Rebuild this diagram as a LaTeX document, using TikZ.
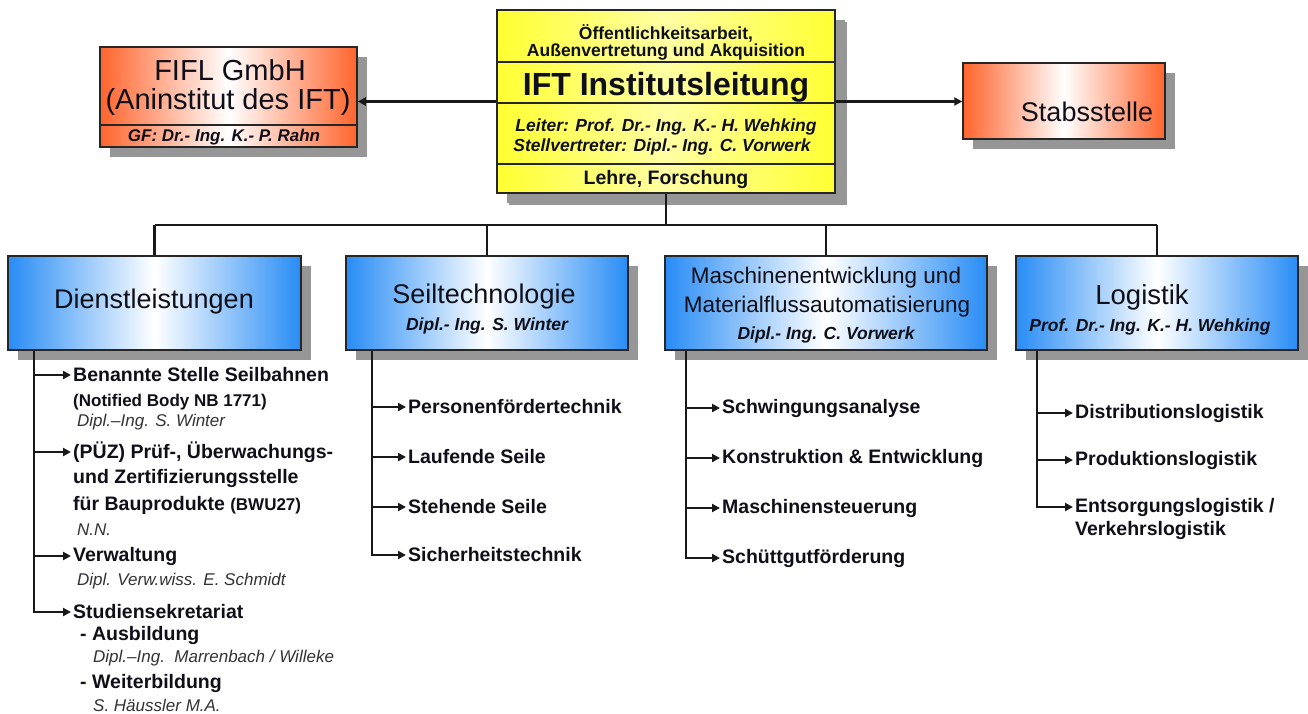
\documentclass[tikz,border=0pt]{standalone}
\usepackage{fontspec}
\setmainfont{Liberation Sans}
\usetikzlibrary{arrows.meta,shadows,calc}
\newcommand\fs[1]{\fontsize{#1}{#1}\selectfont}
\definecolor{bluee}{RGB}{40,140,245}
\definecolor{orangee}{RGB}{255,100,45}
\definecolor{yelloww}{RGB}{255,255,50}
\definecolor{shad}{RGB}{150,150,150}
\definecolor{txt}{RGB}{15,15,25}
\definecolor{itx}{RGB}{50,50,50}
\tikzset{
  boxbase/.style={draw=black!85, line width=1.5pt, inner sep=0pt,
    drop shadow={shadow xshift=10pt, shadow yshift=-10pt, fill=shad, opacity=1}},
  bluebox/.style={boxbase, left color=bluee, right color=bluee, middle color=white,
    minimum width=#1, minimum height=94pt},
  orangebox/.style={boxbase, left color=orangee, right color=orangee, middle color=white},
  yellowbox/.style={boxbase, left color=yelloww, right color=yelloww, middle color=yelloww!45,
    drop shadow={shadow xshift=12pt, shadow yshift=-12pt, fill=shad, opacity=1}},
  conn/.style={line width=2.4pt, black!90},
  arr/.style={conn, -{Triangle[length=8pt,width=8pt]}},
  item/.style={anchor=west, inner sep=0pt, font=\bfseries\fs{19.5}, text=txt},
  sub/.style={anchor=west, inner sep=0pt, font=\itshape\fs{17}, text=itx},
  ttl/.style={inner sep=0pt, text=txt},
}
\begin{document}
\begin{tikzpicture}[x=1pt,y=-1pt]
\useasboundingbox (0,0) rectangle (1308,713);
% top boxes
\node[yellowbox, minimum width=338pt, minimum height=183pt] (ift) at (666,101.5) {};
\draw[black!85, line width=1.2pt] (497,62) -- (835,62) (497,103) -- (835,103) (497,164) -- (835,164);
\node[ttl, font=\bfseries\fs{17.5}] (oe1) at (666,33) {Öffentlichkeitsarbeit,};
\node[ttl, font=\bfseries\fs{17.5}] (oe2) at (666,52) {Außenvertretung und Akquisition};
\node[ttl, font=\bfseries\fs{32}] (iftt) at (666,87) {IFT Institutsleitung};
\node[ttl, font=\bfseries\itshape\fs{17.5}] (lei) at (666,127) {Leiter: Prof. Dr.- Ing. K.- H. Wehking};
\node[ttl, font=\bfseries\itshape\fs{17.5}] (stv) at (662,147) {Stellvertreter: Dipl.- Ing. C. Vorwerk};
\node[ttl, font=\bfseries\fs{19.5}] (lf) at (666,179) {Lehre, Forschung};

\node[orangebox, minimum width=257pt, minimum height=100pt] (fifl) at (228.5,97) {};
\draw[black!85, line width=1.2pt] (100,125) -- (357,125);
\node[ttl, font=\fs{29}] (f1) at (230,70) {FIFL GmbH};
\node[ttl, font=\fs{29}] (f2) at (228,102) {(Aninstitut des IFT)};
\node[ttl, font=\bfseries\itshape\fs{17}] (f3) at (224,137) {GF: Dr.- Ing. K.- P. Rahn};

\node[orangebox, minimum width=202pt, minimum height=76pt] (stab) at (1064,101) {};
\node[ttl, font=\fs{27}] (st) at (1087,112) {Stabsstelle};

\draw[arr] (ift.west) -- (ift.west -| fifl.east);
\draw[arr] (ift.east) -- (ift.east -| stab.west);

% department boxes
\node[bluebox=293pt] (d) at (154.5,303) {};
\node[bluebox=282pt] (s) at (487,303) {};
\node[bluebox=322pt] (m) at (826,303) {};
\node[bluebox=282pt] (l) at (1157,303) {};

\node[ttl, font=\fs{27}] (dt) at (154,302) {Dienstleistungen};
\node[ttl, font=\fs{27}] (stt) at (484,297) {Seiltechnologie};
\node[ttl, font=\bfseries\itshape\fs{17.5}] (sn) at (487,326) {Dipl.- Ing. S. Winter};
\node[ttl, font=\fs{22.5}] (mt1) at (826,278) {Maschinenentwicklung und};
\node[ttl, font=\fs{22.5}] (mt2) at (827,307) {Materialflussautomatisierung};
\node[ttl, font=\bfseries\itshape\fs{17.5}] (mn) at (826,335) {Dipl.- Ing. C. Vorwerk};
\node[ttl, font=\fs{27.5}] (lt) at (1142,297) {Logistik};
\node[ttl, font=\bfseries\itshape\fs{17.5}] (ln) at (1150,327) {Prof. Dr.- Ing. K.- H. Wehking};

% bus
\coordinate (bus) at (0,225);
\draw[conn] (ift.south) -- (ift.south |- bus);
\draw[conn] (d.north |- bus) -- (l.north |- bus);
\foreach \b in {d,s,m,l} \draw[conn] (\b.north) -- (\b.north |- bus);

% Dienstleistungen list
\coordinate (dv) at ([xshift=27pt]d.south west);
\node[item] (d1) at (73,375) {Benannte Stelle Seilbahnen};
\node[item, font=\bfseries\fs{17}] (d1b) at (73,402) {(Notified Body NB 1771)};
\node[sub] (d1c) at (77,422) {Dipl.–Ing. S. Winter};
\node[item] (d2) at (73,452) {(PÜZ) Prüf-, Überwachungs-};
\node[item] (d2b) at (73,478) {und Zertifizierungsstelle};
\node[item] (d2c) at (73,505) {für Bauprodukte {\fs{17}(BWU27)}};
\node[sub] (d2d) at (77,530) {N.N.};
\node[item] (d3) at (73,556) {Verwaltung};
\node[sub] (d3b) at (77,581) {Dipl. Verw.wiss. E. Schmidt};
\node[item] (d4) at (73,612) {Studiensekretariat};
\node[item] (d4b) at (80,635) {- Ausbildung};
\node[sub] (d4c) at (93,658) {Dipl.–Ing.\ \ Marrenbach / Willeke};
\node[item] (d4d) at (80,683) {- Weiterbildung};
\node[sub] (d4e) at (93,705) {S. Häussler M.A.};
\foreach \i in {d1,d2,d3,d4} \draw[arr] (dv) |- ([xshift=-2pt]\i.west);

% Seiltechnologie list
\coordinate (sv) at ([xshift=27pt]s.south west);
\node[item] (s1) at (408,407) {Personenfördertechnik};
\node[item] (s2) at (408,457) {Laufende Seile};
\node[item] (s3) at (408,507) {Stehende Seile};
\node[item] (s4) at (408,555) {Sicherheitstechnik};
\foreach \i in {s1,s2,s3,s4} \draw[arr] (sv) |- ([xshift=-2pt]\i.west);

% Maschinen list
\coordinate (mv) at ([xshift=22pt]m.south west);
\node[item] (m1) at (722,408) {Schwingungsanalyse};
\node[item] (m2) at (722,458) {Konstruktion \& Entwicklung};
\node[item] (m3) at (722,508) {Maschinensteuerung};
\node[item] (m4) at (722,558) {Schüttgutförderung};
\foreach \i in {m1,m2,m3,m4} \draw[arr] (mv) |- ([xshift=-2pt]\i.west);

% Logistik list
\coordinate (lv) at ([xshift=22pt]l.south west);
\node[item] (l1) at (1075,413) {Distributionslogistik};
\node[item] (l2) at (1075,460) {Produktionslogistik};
\node[item] (l3) at (1075,507) {Entsorgungslogistik /};
\node[item] (l3b) at (1075,530) {Verkehrslogistik};
\foreach \i in {l1,l2,l3} \draw[arr] (lv) |- ([xshift=-2pt]\i.west);
\end{tikzpicture}
\end{document}
